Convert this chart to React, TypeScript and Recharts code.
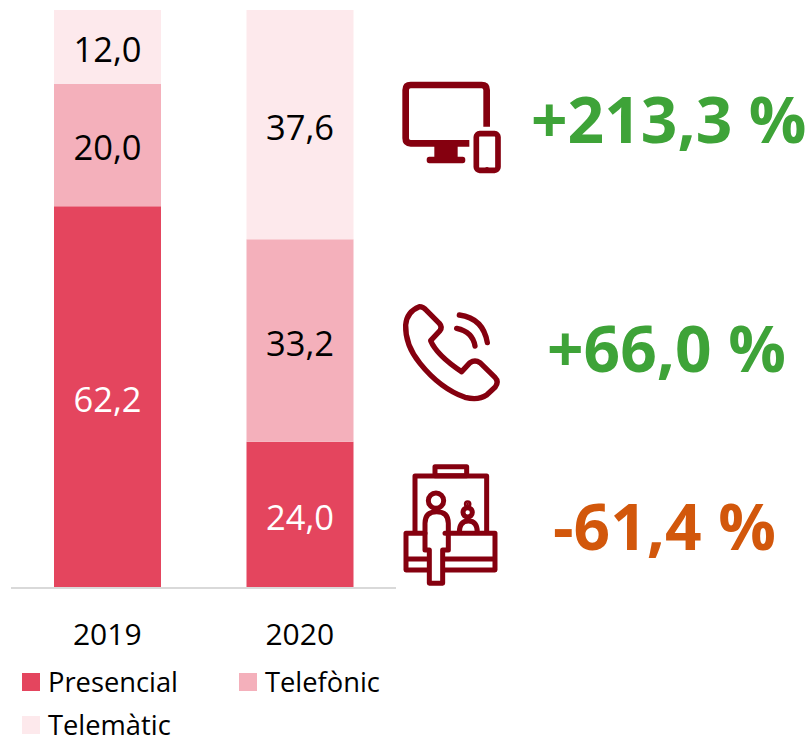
import React from "react";
import { BarChart, Bar, XAxis, YAxis, Legend, LabelList } from "recharts";

const years = ["2019", "2020"];
const presencial = [62.2, 24.0];
const telefonic = [20.0, 33.2];
const telematic = [12.0, 37.6];
const changes = ["+213,3 %", "+66,0 %", "-61,4 %"];

const data = years.map((year, i) => ({
  year,
  Presencial: presencial[i],
  "Telefònic": telefonic[i],
  "Telemàtic": telematic[i],
}));

const FONT = "'Open Sans', sans-serif";
const ICON = "#85000F";
const fmt = (v: any) => Number(v).toFixed(1).replace(".", ",");

const legendSpots = [
  { left: 22, top: 673 },
  { left: 239, top: 673 },
  { left: 22, top: 716 },
];

const renderLegend = (props: any) => (
  <div style={{ position: "relative", height: 0 }}>
    {(props.payload || []).map((p: any, i: number) => (
      <div key={p.value} style={{ position: "absolute", left: legendSpots[i].left, top: legendSpots[i].top, height: 18 }}>
        <div style={{ position: "absolute", left: 0, top: 0, width: 18, height: 18, background: p.color }} />
        <div style={{ position: "absolute", left: 26, top: -4, lineHeight: "26px", fontFamily: FONT, fontSize: 27.3, color: "#000", whiteSpace: "nowrap" }}>{p.value}</div>
      </div>
    ))}
  </div>
);

const Icons = () => (
  <svg width={812} height={738} style={{ position: "absolute", left: 0, top: 0, pointerEvents: "none" }}>
    <g transform="translate(390,60) scale(0.3333)" fill="none" stroke={ICON} strokeWidth={20} strokeLinejoin="round">
      <path d="M290 200 V90 Q290 75 275 75 H62 Q47 75 47 90 V235 Q47 250 62 250 H238" />
      <path d="M133 258 H203 V290 H218 Q226 290 226 300 Q226 310 218 310 H118 Q110 310 110 300 Q110 290 118 290 H133 Z" fill={ICON} stroke="none" />
      <rect x={259} y={221} width={65} height={110} rx={10} strokeWidth={17} />
      <circle cx={291} cy={327} r={6} fill={ICON} stroke="none" />
    </g>
    <g transform="translate(390,290) scale(0.3333)" fill="none" stroke={ICON} strokeWidth={16} strokeLinecap="round" strokeLinejoin="round">
      <path d="M88 50 Q100 50 110 62 L148 100 Q158 112 150 122 L122 152 Q140 195 215 245 L240 218 Q255 208 270 218 L315 262 Q328 275 315 292 L290 315 Q265 332 225 322 Q150 295 90 220 Q45 165 47 105 Q50 65 88 50 Z" />
      <path d="M208 75 Q280 85 292 158" />
      <path d="M200 115 Q248 125 255 168" />
    </g>
    <g transform="translate(390,455) scale(0.3333)" fill="none" stroke={ICON} strokeWidth={15} strokeLinecap="round" strokeLinejoin="round">
      <rect x={135} y={35} width={95} height={27} />
      <path d="M75 232 V63 H290 V232" />
      <path d="M105 235 H48 V345 H115 M48 312 H115 M165 235 H315 V345 H165 M165 312 H315" />
      <circle cx={138} cy={137} r={23} />
      <path d="M118 385 V285 H105 V205 Q105 170 140 170 Q175 170 175 205 V285 H158 V385 Z" />
      <circle cx={233} cy={172} r={14} />
      <circle cx={233} cy={147} r={4} fill={ICON} />
      <path d="M208 232 Q208 198 235 198 Q262 198 262 232" />
    </g>
    <g fontFamily={FONT} fontWeight={700} fontSize={64}>
      <text x={531} y={143} fill="#3EA338">{changes[0]}</text>
      <text x={547} y={372} fill="#3EA338">{changes[1]}</text>
      <text x={553} y={550} fill="#D2570B">{changes[2]}</text>
    </g>
  </svg>
);

export default function App() {
  return (
    <div style={{ position: "absolute", left: 0, top: 0, width: 812, height: 738 }}>
      <BarChart
        width={812}
        height={738}
        data={data}
        stackOffset="expand"
        barSize={107}
        margin={{ top: 10, right: 416, bottom: 0, left: 11 }}
      >
        <XAxis
          dataKey="year"
          height={150}
          axisLine={{ stroke: "#D9D9D9", strokeWidth: 2 }}
          tickLine={false}
          tick={{ fontFamily: FONT, fontSize: 30, fill: "#000" }}
          tickMargin={30}
        />
        <YAxis hide domain={[0, 1]} />
        <Legend content={renderLegend} wrapperStyle={{ position: "absolute", left: 0, top: 0, width: 812, height: 0 }} />
        <Bar dataKey="Presencial" stackId="a" fill="#E4455E" isAnimationActive={false}>
          <LabelList dataKey="Presencial" position="center" formatter={fmt} fill="#fff" fontFamily={FONT} fontSize={34.5} dy={3} />
        </Bar>
        <Bar dataKey="Telefònic" stackId="a" fill="#F4B0BB" isAnimationActive={false}>
          <LabelList dataKey="Telefònic" position="center" formatter={fmt} fill="#000" fontFamily={FONT} fontSize={34.5} dy={3} />
        </Bar>
        <Bar dataKey="Telemàtic" stackId="a" fill="#FDE9EC" isAnimationActive={false}>
          <LabelList dataKey="Telemàtic" position="center" formatter={fmt} fill="#000" fontFamily={FONT} fontSize={34.5} dy={3} />
        </Bar>
      </BarChart>
      <Icons />
    </div>
  );
}
